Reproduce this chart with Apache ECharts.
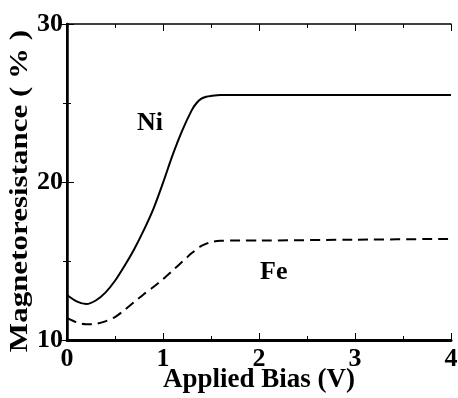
<!DOCTYPE html>
<html>
<head>
<meta charset="utf-8">
<script src="https://cdn.jsdelivr.net/npm/echarts@6/dist/echarts.min.js"></script>
<style>html,body{margin:0;padding:0;background:#fff}#c{width:458px;height:398px}</style>
</head>
<body>
<div id="c"></div>
<script>
var niX = [0, 0.1, 0.2, 0.3, 0.4, 0.5, 0.6, 0.7, 0.8, 0.9, 1.0, 1.1, 1.2, 1.3, 1.35, 1.4, 1.45, 1.5, 1.6, 1.8, 2, 3, 4];
var niY = [12.85, 12.45, 12.28, 12.5, 13.0, 13.75, 14.7, 15.75, 16.95, 18.3, 19.95, 21.7, 23.25, 24.55, 25.0, 25.28, 25.4, 25.45, 25.5, 25.5, 25.5, 25.5, 25.5];
var feX = [0, 0.1, 0.2, 0.3, 0.4, 0.5, 0.6, 0.7, 0.8, 0.9, 1.0, 1.1, 1.2, 1.3, 1.4, 1.5, 1.6, 1.8, 2, 3, 4];
var feY = [11.4, 11.12, 11.0, 11.02, 11.18, 11.45, 11.9, 12.4, 12.9, 13.35, 13.85, 14.4, 14.95, 15.5, 15.95, 16.2, 16.28, 16.3, 16.3, 16.35, 16.4];
var xTicks = [0, 1, 2, 3, 4];
var yTicks = [10, 20, 30];
var seriesNames = ['Ni', 'Fe'];
var xTitle = 'Applied Bias (V)';
var yTitle = 'Magnetoresistance ( % )';

function pairs(xs, ys) { return xs.map(function (x, i) { return [x, ys[i]]; }); }

var font = 'Liberation Serif';
var chart = echarts.init(document.getElementById('c'), null, {renderer: 'canvas'});
function axisBase(w) {
  return {
    axisLine: {show: true, lineStyle: {color: '#000', width: w}},
    axisTick: {show: true, inside: true, length: 7, lineStyle: {color: '#000', width: 1}},
    minorTick: {show: true, splitNumber: 2, length: 4, lineStyle: {color: '#000', width: 1}},
    splitLine: {show: false}
  };
}
chart.setOption({
  animation: false,
  backgroundColor: '#fff',
  grid: {left: 67, right: 7, top: 24, bottom: 58, containLabel: false, outerBoundsMode: 'none'},
  xAxis: [
    Object.assign({
      type: 'value', min: xTicks[0], max: xTicks[xTicks.length - 1], interval: 1,
      position: 'bottom',
      name: xTitle, nameLocation: 'middle', nameGap: 27, nameMoveOverlap: false,
      nameTextStyle: {fontFamily: font, fontWeight: 'bold', fontSize: 27, color: '#000'},
      axisLabel: {fontFamily: font, fontWeight: 'bold', fontSize: 26, color: '#000', margin: 6}
    }, axisBase(3)),
    Object.assign({
      type: 'value', min: xTicks[0], max: xTicks[xTicks.length - 1], interval: 1,
      position: 'top', axisLabel: {show: false}
    }, axisBase(1.5))
  ],
  yAxis: [
    Object.assign({
      type: 'value', min: yTicks[0], max: yTicks[yTicks.length - 1], interval: 10,
      position: 'left',
      axisLabel: {fontFamily: font, fontWeight: 'bold', fontSize: 26, color: '#000', margin: 4}
    }, axisBase(2)),
    Object.assign({
      type: 'value', min: yTicks[0], max: yTicks[yTicks.length - 1], interval: 10,
      position: 'right', axisLabel: {show: false}
    }, axisBase(2.5))
  ],
  series: [
    {name: seriesNames[0], type: 'line', data: pairs(niX, niY), smooth: 0.3, symbol: 'none',
     lineStyle: {color: '#000', width: 2, type: 'solid'}},
    {name: seriesNames[1], type: 'line', data: pairs(feX, feY), smooth: 0.3, symbol: 'none',
     lineStyle: {color: '#000', width: 2, type: [10, 6]}}
  ],
  graphic: [
    {type: 'text', x: 21, y: 191, rotation: Math.PI / 2, scaleX: 1.24,
     style: {text: yTitle, fontFamily: font, fontWeight: 'bold', fontSize: 25, fill: '#000',
             textAlign: 'center', textVerticalAlign: 'middle'}},
    {type: 'text', left: 137, top: 110, style: {text: seriesNames[0], fontFamily: font, fontWeight: 'bold', fontSize: 26, fill: '#000'}},
    {type: 'text', left: 260, top: 259, style: {text: seriesNames[1], fontFamily: font, fontWeight: 'bold', fontSize: 26, fill: '#000'}}
  ]
});
</script>
</body>
</html>
